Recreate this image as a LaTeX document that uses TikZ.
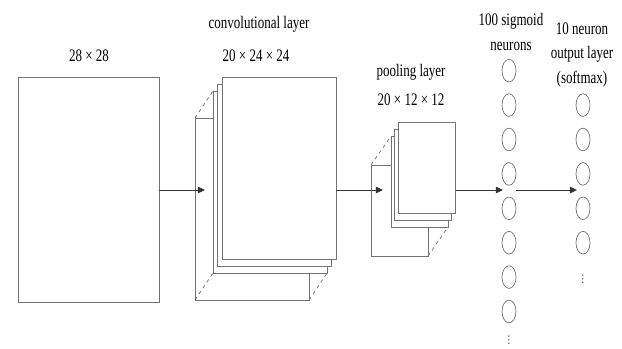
\documentclass[tikz,border=0pt]{standalone}
\usepackage{fontspec}
\setmainfont{Liberation Serif}
\newfontfamily\symfont{DejaVu Sans}
\usetikzlibrary{positioning,arrows.meta,shapes.geometric}

\begin{document}
\begin{tikzpicture}[
    x=0.03cm, y=-0.03cm,
    lbl/.style={font=\fontsize{15}{21}\selectfont, xscale=0.74, align=center, inner sep=0pt},
    layer/.style={rectangle, draw=black!55, line width=0.6pt, fill=white, inner sep=0pt, outer sep=0pt},
    convmap/.style={layer, minimum width=3.42cm, minimum height=5.46cm},
    poolmap/.style={layer, minimum width=1.71cm, minimum height=2.73cm},
    neuron/.style={ellipse, draw=black!55, line width=0.6pt, minimum width=0.42cm, minimum height=0.68cm, inner sep=0pt},
    vdot/.style={inner sep=0pt, font=\symfont\small, black!70},
    hidden/.style={dashed, draw=black!55, line width=0.6pt},
    arrow/.style={-{Triangle[length=6pt,width=5.5pt]}, line width=0.8pt, black!80}
]
\useasboundingbox (0,0) rectangle (622,349);

% Input image
\node[layer, minimum width=4.23cm, minimum height=6.75cm] (in) at (88.5,189.5) {};
\node[lbl] (inlbl) at (89,56) {28 × 28};

% Convolutional layer (back face, then stacked maps)
\node[convmap] (cback) at (252,209) {};
\node[convmap] (c3) at (270,182) {};
\draw[hidden] (cback.north west) -- (c3.north west);
\draw[hidden] (cback.south west) -- (c3.south west);
\draw[hidden] (cback.south east) -- (c3.south east);
\node[convmap] (c2) at (274.5,175) {};
\node[convmap] (cfront) at (279,168) {};
\node[lbl] (clbl) at (259,24) {convolutional layer};
\node[lbl] (cdim) at (256,56) {20 × 24 × 24};

% Pooling layer
\node[poolmap] (pback) at (399.5,210.5) {};
\node[poolmap] (p3) at (419.5,181.5) {};
\draw[hidden] (pback.north west) -- (p3.north west);
\draw[hidden] (pback.south east) -- (p3.south east);
\node[poolmap] (p2) at (423,174.5) {};
\node[poolmap] (pfront) at (427,167.5) {};
\node[lbl] (plbl) at (411,72) {pooling layer};
\node[lbl] (pdim) at (411,100) {20 × 12 × 12};

% Hidden layer (100 sigmoid neurons)
\foreach \i in {0,...,7}
    \node[neuron] (h\i) at (509,{70.7+34.4*\i}) {};
\node[vdot] (hdots) at (509,340) {⋮};
\node[lbl] (hlbl) at (511,32) {100 sigmoid\\neurons};

% Output layer (softmax)
\foreach \i in {1,...,5}
    \node[neuron] (o\i) at (583,{70.7+34.4*\i}) {};
\node[vdot] (odots) at (583,279) {⋮};
\node[lbl] (olbl) at (582,55) {10 neuron\\output layer\\(softmax)};

% Arrows
\coordinate (cin) at (205,190);
\coordinate (pin) at (383,190);
\coordinate (hin) at (503,190);
\coordinate (hout) at (516,190);
\coordinate (oin) at (577,190);
\draw[arrow] (in.east |- cin) -- (cin);
\draw[arrow] (cfront.east |- pin) -- (pin);
\draw[arrow] (pfront.east |- hin) -- (hin);
\draw[arrow] (hout) -- (oin);

\end{tikzpicture}
\end{document}
